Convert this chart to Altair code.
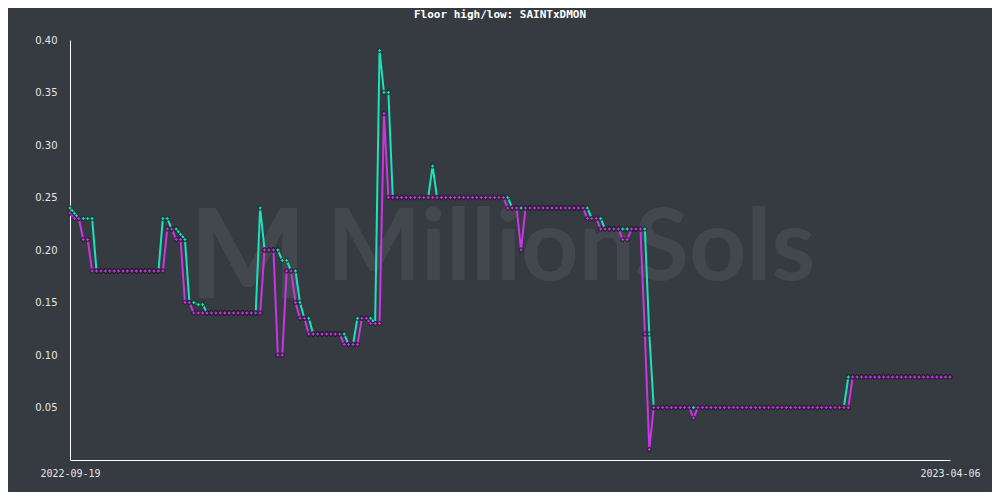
import altair as alt
import pandas as pd

# ---------------- data ----------------
start_date = "2022-09-19"
end_date = "2023-04-06"
dates = pd.date_range(start_date, end_date, freq="D").strftime("%Y-%m-%d").tolist()

high = [
    0.24, 0.235, 0.23, 0.23, 0.23, 0.23, 0.18, 0.18, 0.18, 0.18,
    0.18, 0.18, 0.18, 0.18, 0.18, 0.18, 0.18, 0.18, 0.18, 0.18,
    0.18, 0.23, 0.23, 0.22, 0.22, 0.215, 0.21, 0.15, 0.15, 0.148,
    0.148, 0.14, 0.14, 0.14, 0.14, 0.14, 0.14, 0.14, 0.14, 0.14,
    0.14, 0.14, 0.14, 0.24, 0.20, 0.20, 0.20, 0.20, 0.19, 0.19,
    0.18, 0.18, 0.15, 0.135, 0.135, 0.12, 0.12, 0.12, 0.12, 0.12,
    0.12, 0.12, 0.12, 0.11, 0.11, 0.135, 0.135, 0.135, 0.135, 0.13,
    0.39, 0.35, 0.35, 0.25, 0.25, 0.25, 0.25, 0.25, 0.25, 0.25,
    0.25, 0.25, 0.28, 0.25, 0.25, 0.25, 0.25, 0.25, 0.25, 0.25,
    0.25, 0.25, 0.25, 0.25, 0.25, 0.25, 0.25, 0.25, 0.25, 0.25,
    0.24, 0.24, 0.24, 0.24, 0.24, 0.24, 0.24, 0.24, 0.24, 0.24,
    0.24, 0.24, 0.24, 0.24, 0.24, 0.24, 0.24, 0.24, 0.23, 0.23,
    0.23, 0.22, 0.22, 0.22, 0.22, 0.22, 0.22, 0.22, 0.22, 0.22,
    0.22, 0.12, 0.05, 0.05, 0.05, 0.05, 0.05, 0.05, 0.05, 0.05,
    0.05, 0.05, 0.05, 0.05, 0.05, 0.05, 0.05, 0.05, 0.05, 0.05,
    0.05, 0.05, 0.05, 0.05, 0.05, 0.05, 0.05, 0.05, 0.05, 0.05,
    0.05, 0.05, 0.05, 0.05, 0.05, 0.05, 0.05, 0.05, 0.05, 0.05,
    0.05, 0.05, 0.05, 0.05, 0.05, 0.05, 0.079, 0.079, 0.079, 0.079,
    0.079, 0.079, 0.079, 0.079, 0.079, 0.079, 0.079, 0.079, 0.079, 0.079,
    0.079, 0.079, 0.079, 0.079, 0.079, 0.079, 0.079, 0.079, 0.079, 0.079,
]

low = [
    0.235, 0.23, 0.23, 0.21, 0.21, 0.18, 0.18, 0.18, 0.18, 0.18,
    0.18, 0.18, 0.18, 0.18, 0.18, 0.18, 0.18, 0.18, 0.18, 0.18,
    0.18, 0.18, 0.22, 0.22, 0.21, 0.21, 0.15, 0.15, 0.14, 0.14,
    0.14, 0.14, 0.14, 0.14, 0.14, 0.14, 0.14, 0.14, 0.14, 0.14,
    0.14, 0.14, 0.14, 0.14, 0.20, 0.20, 0.20, 0.10, 0.10, 0.18,
    0.18, 0.15, 0.135, 0.135, 0.12, 0.12, 0.12, 0.12, 0.12, 0.12,
    0.12, 0.12, 0.11, 0.11, 0.11, 0.11, 0.135, 0.135, 0.13, 0.13,
    0.13, 0.33, 0.25, 0.25, 0.25, 0.25, 0.25, 0.25, 0.25, 0.25,
    0.25, 0.25, 0.25, 0.25, 0.25, 0.25, 0.25, 0.25, 0.25, 0.25,
    0.25, 0.25, 0.25, 0.25, 0.25, 0.25, 0.25, 0.25, 0.25, 0.24,
    0.24, 0.24, 0.20, 0.24, 0.24, 0.24, 0.24, 0.24, 0.24, 0.24,
    0.24, 0.24, 0.24, 0.24, 0.24, 0.24, 0.24, 0.23, 0.23, 0.23,
    0.22, 0.22, 0.22, 0.22, 0.22, 0.21, 0.21, 0.22, 0.22, 0.22,
    0.12, 0.01, 0.05, 0.05, 0.05, 0.05, 0.05, 0.05, 0.05, 0.05,
    0.05, 0.04, 0.05, 0.05, 0.05, 0.05, 0.05, 0.05, 0.05, 0.05,
    0.05, 0.05, 0.05, 0.05, 0.05, 0.05, 0.05, 0.05, 0.05, 0.05,
    0.05, 0.05, 0.05, 0.05, 0.05, 0.05, 0.05, 0.05, 0.05, 0.05,
    0.05, 0.05, 0.05, 0.05, 0.05, 0.05, 0.05, 0.079, 0.079, 0.079,
    0.079, 0.079, 0.079, 0.079, 0.079, 0.079, 0.079, 0.079, 0.079, 0.079,
    0.079, 0.079, 0.079, 0.079, 0.079, 0.079, 0.079, 0.079, 0.079, 0.079,
]

series_names = ["high", "low"]
series_colors = ["#19e3bd", "#c936e3"]
title_text = "Floor high/low: SAINTxDMON"
watermark_text = "MillionSols"
y_tick_values = [0.05, 0.10, 0.15, 0.20, 0.25, 0.30, 0.35, 0.40]

BG = "#363a41"
WM = "#43474e"

df = pd.DataFrame({
    "date": dates + dates,
    "value": high + low,
    "series": [series_names[0]] * len(dates) + [series_names[1]] * len(dates),
})

x_enc = alt.X(
    "date:T",
    scale=alt.Scale(
        type="utc",
        domain=[alt.DateTime(year=2022, month=9, date=19, utc=True),
                alt.DateTime(year=2023, month=4, date=6, utc=True)],
    ),
    axis=alt.Axis(
        values=[alt.DateTime(year=2022, month=9, date=19, utc=True),
                alt.DateTime(year=2023, month=4, date=6, utc=True)],
        format="%Y-%m-%d",
        labelFlush=False,
        labelOverlap=False,
        labelFont="DejaVu Sans Mono",
        labelFontSize=10,
        labelPadding=8,
        title=None,
    ),
)
y_enc = alt.Y(
    "value:Q",
    scale=alt.Scale(domain=[0, 0.4], nice=False, zero=True),
    axis=alt.Axis(
        values=y_tick_values,
        format=".2f",
        labelFont="DejaVu Sans",
        labelFontSize=10,
        labelPadding=13,
        title=None,
    ),
)
color_enc = alt.Color(
    "series:N",
    scale=alt.Scale(domain=series_names, range=series_colors),
    legend=None,
)

base = alt.Chart(df)

lines = base.mark_line(strokeWidth=2).encode(x=x_enc, y=y_enc, color=color_enc)
points = base.mark_point(
    shape="cross", filled=True, size=18, stroke="#111111", strokeWidth=0.6, opacity=1
).encode(x=x_enc, y=y_enc, fill=color_enc)

text_df = pd.DataFrame({"t": [title_text], "w": [watermark_text], "m": ["M"]})

watermark = alt.Chart(text_df).mark_text(
    font="Lato", fontWeight="bold", fontSize=100, color=WM, align="center", baseline="alphabetic"
).encode(text="w:N", x=alt.value(501), y=alt.value(240))

logo = alt.Chart(text_df).mark_text(
    font="Lato", fontWeight="bold", fontSize=125, color=WM, align="center", baseline="alphabetic"
).encode(text="m:N", x=alt.value(178), y=alt.value(258))

title = alt.Chart(text_df).mark_text(
    font="DejaVu Sans Mono", fontWeight="bold", fontSize=11, color="#ffffff",
    align="center", baseline="middle"
).encode(text="t:N", x=alt.value(430), y=alt.value(-25))

chart = alt.layer(watermark, logo, title, lines, points).properties(
    width=880,
    height=420,
    background=BG,
    padding={"left": 62, "top": 32, "right": 42, "bottom": 32},
    autosize=alt.AutoSizeParams(type="none"),
).configure_view(stroke=None).configure_axis(
    grid=False,
    ticks=False,
    domainColor="#ffffff",
    domainWidth=1,
    labelColor="#e6e6e6",
)

chart.save("out.html", embed_options={"renderer": "svg", "actions": False})
